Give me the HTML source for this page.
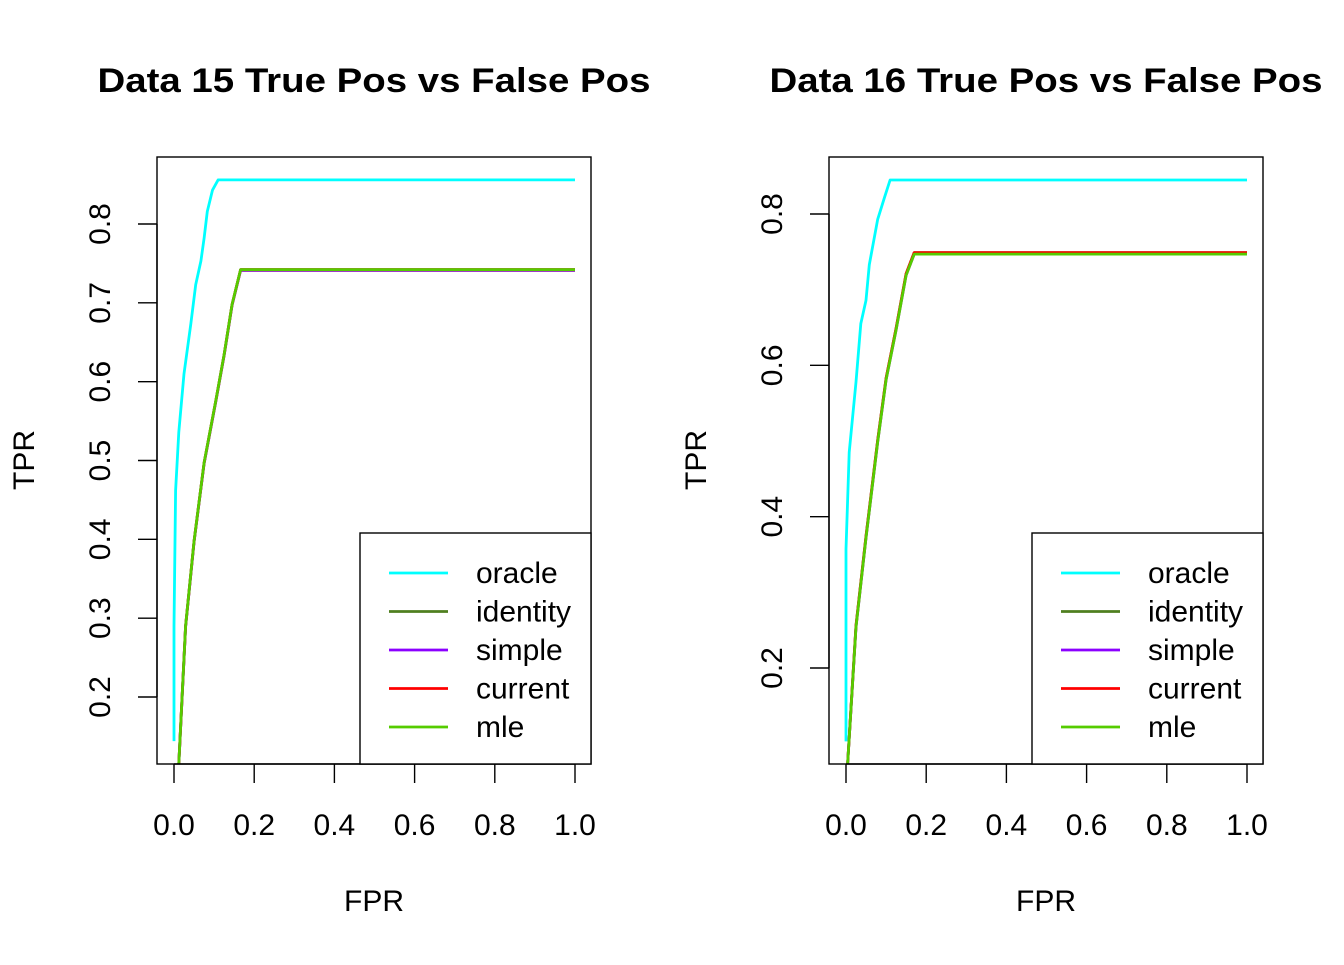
<!DOCTYPE html>
<html><head><meta charset="utf-8"><style>
body{margin:0;background:#fff}
svg text{font-family:"Liberation Sans",Arial,sans-serif;fill:#000}
</style></head><body>
<svg id="c" width="1344" height="960" xmlns="http://www.w3.org/2000/svg"></svg>
<script>
const panelTitles = ["Data 15 True Pos vs False Pos", "Data 16 True Pos vs False Pos"];
const xTicks = [0.0, 0.2, 0.4, 0.6, 0.8, 1.0];
const yTicks1 = [0.2, 0.3, 0.4, 0.5, 0.6, 0.7, 0.8];
const yTicks2 = [0.2, 0.4, 0.6, 0.8];
const seriesNames = ["oracle", "identity", "simple", "current", "mle"];
const seriesColors = ["#00FFFF", "#4F7F1F", "#8B00FF", "#FF0000", "#55CC00"];
// Panel 1 data
const p1OracleX = [0, 0, 0.004, 0.012, 0.025, 0.042, 0.054, 0.067, 0.075, 0.083, 0.096, 0.11, 1];
const p1OracleY = [0.144, 0.29, 0.462, 0.536, 0.61, 0.673, 0.723, 0.753, 0.782, 0.816, 0.843, 0.856, 0.856];
const p1OtherX = [0.012, 0.029, 0.05, 0.075, 0.104, 0.125, 0.145, 0.166, 1];
const p1OtherY = [0.115, 0.29, 0.398, 0.497, 0.575, 0.634, 0.698, 0.742, 0.742];
// Panel 2 data
const p2OracleX = [0, 0, 0.008, 0.025, 0.037, 0.05, 0.058, 0.079, 0.096, 0.11, 1];
const p2OracleY = [0.103, 0.357, 0.485, 0.578, 0.655, 0.686, 0.733, 0.793, 0.822, 0.845, 0.845];
const p2OtherX = [0.004, 0.025, 0.05, 0.079, 0.1, 0.125, 0.15, 0.17, 1];
const p2OtherY = [0.073, 0.255, 0.373, 0.5, 0.582, 0.648, 0.72, 0.748, 0.748];
const p2Offsets = [0, 0.001, -0.001, 0.001, -0.001];

const svg = document.getElementById('c');
const NS = "http://www.w3.org/2000/svg";
function mk(tag, attrs, parent){const e=document.createElementNS(NS,tag);for(const k in attrs)e.setAttribute(k,attrs[k]);(parent||svg).appendChild(e);return e;}

const panels = [
 {L:157,R:591,T:157,B:764,x0:174,x1:575,yA:0.8,pyA:224,yB:0.2,pyB:697,yTicks:yTicks1,title:panelTitles[0],
  oX:p1OracleX,oY:p1OracleY,sX:p1OtherX,sY:p1OtherY,off:[0,0,-0.001,0,0]},
 {L:829,R:1263,T:157,B:764,x0:846,x1:1247,yA:0.8,pyA:214,yB:0.2,pyB:668,yTicks:yTicks2,title:panelTitles[1],
  oX:p2OracleX,oY:p2OracleY,sX:p2OtherX,sY:p2OtherY,off:p2Offsets}
];

panels.forEach((p,i)=>{
  const g = mk('g',{});
  
  
  const xs = v => p.x0 + v*(p.x1-p.x0);
  const ys = v => p.pyA + (p.yA-v)*(p.pyB-p.pyA)/(p.yA-p.yB);
  const cx=(p.L+p.R)/2;
  const t=mk('text',{x:cx,y:92,'text-anchor':'middle','font-size':'34','font-weight':'bold',textLength:553,lengthAdjust:'spacingAndGlyphs'},g);
  t.textContent=p.title;
  
  
  const clipId='clip'+i;
  const cp=mk('clipPath',{id:clipId},g);
  mk('rect',{x:p.L,y:p.T,width:p.R-p.L,height:p.B-p.T},cp);
  const lines=mk('g',{'clip-path':'url(#'+clipId+')'},g);
  for(let s=1;s<5;s++){
    const pts=p.sX.map((x,k)=>xs(x).toFixed(1)+','+ys(p.sY[k]+(k>0?p.off[s]:0)).toFixed(1)).join(' ');
    const pl=mk('polyline',{points:pts,fill:'none',stroke:seriesColors[s],'stroke-width':2.8,'stroke-linejoin':'round'},lines);
    
    
  }
  const opts=p.oX.map((x,k)=>xs(x).toFixed(1)+','+ys(p.oY[k]).toFixed(1)).join(' ');
  const ol=mk('polyline',{points:opts,fill:'none',stroke:seriesColors[0],'stroke-width':2.8,'stroke-linejoin':'round'},lines);
  
  
  const box=mk('rect',{x:p.L,y:p.T,width:p.R-p.L,height:p.B-p.T,fill:'none',stroke:'#000','stroke-width':1.4},g);
  
  
  const xa=mk('g',{},g);
  
  
  mk('line',{x1:xs(xTicks[0]),x2:xs(xTicks[xTicks.length-1]),y1:p.B,y2:p.B,stroke:'#000','stroke-width':1.4},xa);
  xTicks.forEach(v=>{
    mk('line',{x1:xs(v),x2:xs(v),y1:p.B,y2:p.B+19,stroke:'#000','stroke-width':1.4},xa);
    const tl=mk('text',{x:xs(v),y:835,'text-anchor':'middle','font-size':'30'},xa);
    tl.textContent=v.toFixed(1);
    
    
  });
  const xt=mk('text',{x:cx,y:911,'text-anchor':'middle','font-size':'30'},g);
  xt.textContent='FPR';
  
  
  const ya=mk('g',{},g);
  
  
  const yt=p.yTicks;
  mk('line',{x1:p.L,x2:p.L,y1:ys(yt[0]),y2:ys(yt[yt.length-1]),stroke:'#000','stroke-width':1.4},ya);
  yt.forEach(v=>{
    mk('line',{x1:p.L,x2:p.L-19,y1:ys(v),y2:ys(v),stroke:'#000','stroke-width':1.4},ya);
    const tl=mk('text',{x:0,y:0,'text-anchor':'middle','font-size':'30',transform:`translate(${p.L-47},${ys(v)}) rotate(-90)`},ya);
    tl.textContent=v.toFixed(1);
    
    
  });
  const ytt=mk('text',{x:0,y:0,'text-anchor':'middle','font-size':'30',transform:`translate(${p.L-123},460) rotate(-90)`},g);
  ytt.textContent='TPR';
  
  
  const lg=mk('g',{},g);
  
  
  const lx=p.R-231;
  mk('rect',{x:lx,y:533,width:231,height:231,fill:'#fff',stroke:'#000','stroke-width':1.4},lg);
  seriesNames.forEach((n,k)=>{
    const yy=573+k*38.5;
    const e=mk('g',{},lg);
    
    
    mk('line',{x1:lx+29,x2:lx+88,y1:yy,y2:yy,stroke:seriesColors[k],'stroke-width':2.8},e);
    const tx=mk('text',{x:lx+116,y:yy+10,'font-size':'30'},e);
    tx.textContent=n;
  });
});
</script>
</body></html>
